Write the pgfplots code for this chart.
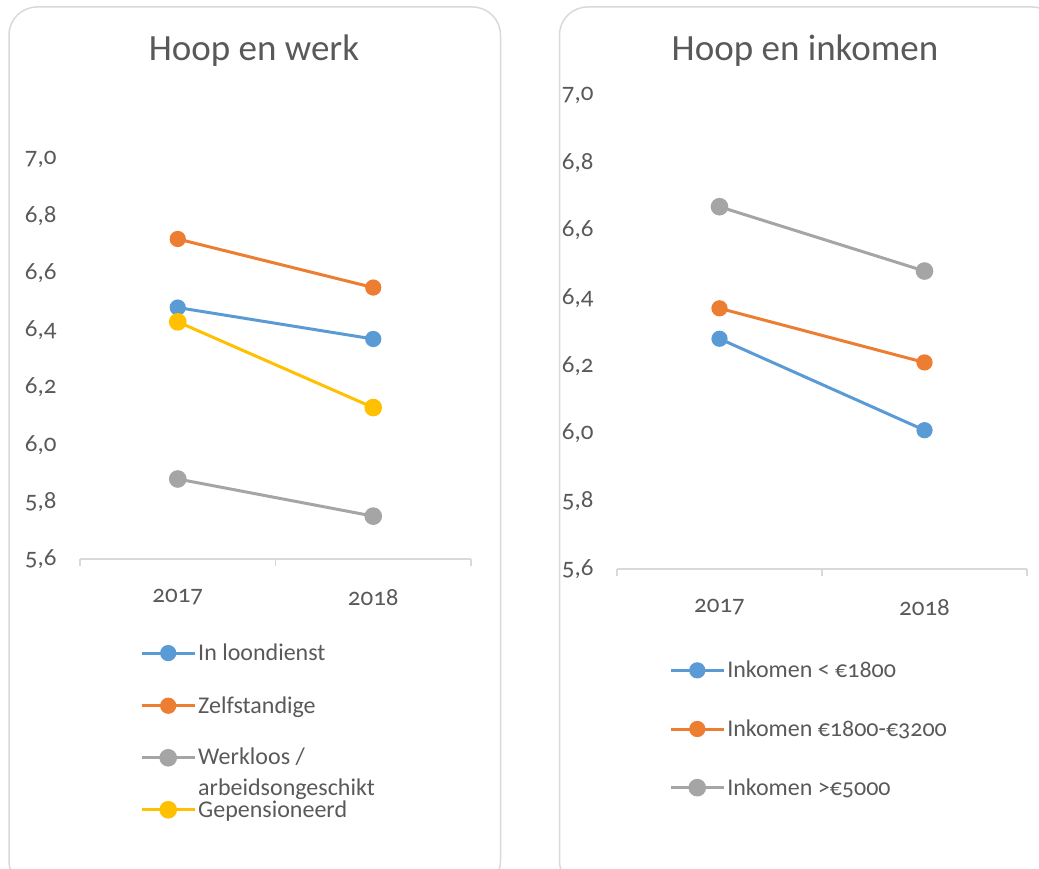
\documentclass[border=0pt]{standalone}
\usepackage{fontspec}
\setmainfont{Carlito}[Numbers=OldStyle]
\usepackage{pgfplots}
\pgfplotsset{compat=1.18}
\definecolor{cblue}{HTML}{5B9BD5}
\definecolor{corange}{HTML}{ED7D31}
\definecolor{cgray}{HTML}{A5A5A5}
\definecolor{cyellow}{HTML}{FFC000}
\definecolor{ctext}{HTML}{595959}
\definecolor{cline}{HTML}{D9D9D9}
\pgfplotsset{
  myaxis/.style={
    scale only axis,
    anchor=south west,
    xmin=-0.5, xmax=1.5, ymin=5.6, ymax=7.0,
    ytick={5.6,5.8,6.0,6.2,6.4,6.6,6.8,7.0},
    yticklabel style={/pgf/number format/fixed, /pgf/number format/fixed zerofill, /pgf/number format/precision=1, /pgf/number format/use comma, /pgf/number format/assume math mode=true},
    y tick label style={font=\fontsize{25}{28}\selectfont, text=ctext, xshift=-13pt},
    axis x line*=bottom,
    axis y line*=left,
    y axis line style={draw=none},
    ytick style={draw=none},
    x axis line style={cline, line width=1.3pt, -},
    xtick={-0.5,0.5,1.5},
    xticklabels={},
    xtick style={cline, line width=1.3pt},
    tick align=outside,
    major tick length=7pt,
    extra x ticks={0,1},
    extra x tick labels={2017,2018},
    extra x tick style={xtick style={draw=none}, tick label style={yshift=-20pt}},
    x tick label style={font=\fontsize{25}{28}\selectfont, text=ctext},
    legend cell align=left,
    legend image code/.code={\draw[mark repeat=2,mark phase=2] plot coordinates {(0pt,0pt) (26.5pt,0pt) (53pt,0pt)};},
  },
  s1/.style={line width=3pt, mark=*, mark size=6.6pt, mark options={solid}},
  s2/.style={line width=3pt, mark=*, mark size=7.3pt, mark options={solid}},
}
\begin{document}
\begin{tikzpicture}
\path[use as bounding box] (0pt,0pt) rectangle (1039pt,869pt);
\draw[cline, line width=1.5pt, rounded corners=28pt] (9pt,-20pt) rectangle (500.5pt,862pt);
\draw[cline, line width=1.5pt, rounded corners=28pt] (559.5pt,-20pt) rectangle (1060pt,862pt);
\node[text=ctext, font=\fontsize{37}{44}\selectfont] at (254pt,818pt) {Hoop en werk};
\node[text=ctext, font=\fontsize{37}{44}\selectfont] at (805pt,818pt) {Hoop en inkomen};

\begin{axis}[myaxis, at={(80pt,310pt)}, width=391pt, height=400pt,
  legend style={at={(0.1535,-0.207)}, anchor=north west, draw=none, fill=none, inner sep=0pt,
    font=\fontsize{24}{28}\selectfont, text=ctext, row sep=30.5pt,
    nodes={inner sep=2pt}},
]
\addplot[cblue, s1] coordinates {(0,6.48) (1,6.37)};
\addlegendentry{In loondienst}
\addplot[corange, s1] coordinates {(0,6.72) (1,6.55)};
\addlegendentry{Zelfstandige}
\addplot[cgray, s2] coordinates {(0,5.88) (1,5.75)};
\addlegendentry{\smash{\begin{tabular}[t]{@{}l@{}}Werkloos /\\[3pt]arbeidsongeschikt\end{tabular}}\vphantom{Wg}}
\addplot[cyellow, s2] coordinates {(0,6.43) (1,6.13)};
\addlegendentry{Gepensioneerd}
\end{axis}

\begin{axis}[myaxis, at={(617pt,300pt)}, width=410pt, height=474pt,
  legend style={at={(0.127,-0.190)}, anchor=north west, draw=none, fill=none, inner sep=0pt,
    font=\fontsize{24}{28}\selectfont, text=ctext, row sep=36.5pt,
    nodes={inner sep=2pt}},
]
\addplot[cblue, s1] coordinates {(0,6.28) (1,6.01)};
\addlegendentry{Inkomen < €1800}
\addplot[corange, s1] coordinates {(0,6.37) (1,6.21)};
\addlegendentry{Inkomen €1800-€3200}
\addplot[cgray, s2] coordinates {(0,6.67) (1,6.48)};
\addlegendentry{Inkomen >€5000}
\end{axis}
\end{tikzpicture}
\end{document}
